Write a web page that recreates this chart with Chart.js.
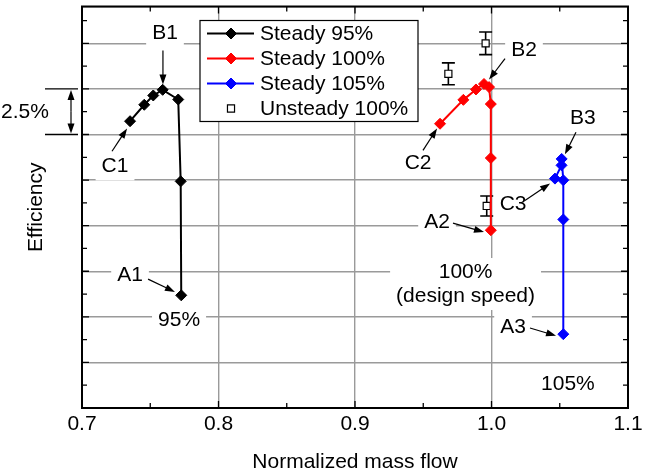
<!DOCTYPE html>
<html>
<head>
    <title>Efficiency vs Normalized mass flow</title>
    <script src="https://cdn.jsdelivr.net/npm/chart.js"></script>
    <style>
        body { margin: 0; background: #fff; }
    </style>
</head>
<body>
    <canvas id="myChart" width="652" height="475"></canvas>

    <script>
        // steady runs: normalized mass flow / efficiency (%, arbitrary offset)
        const flow95  = [0.7352, 0.7456, 0.7522, 0.7591, 0.7705, 0.7723, 0.7727];
        const eff95   = [85.73, 86.63, 87.14, 87.45, 86.92, 82.43, 76.18];
        const flow100 = [0.9623, 0.9794, 0.9886, 0.9945, 0.9982, 0.9995, 0.9995, 0.9995];
        const eff100  = [85.59, 86.90, 87.47, 87.77, 87.60, 86.67, 83.71, 79.75];
        const flow105 = [1.0465, 1.0513, 1.0514, 1.0526, 1.0526, 1.0526];
        const eff105  = [82.58, 83.31, 83.66, 82.49, 80.34, 74.05];
        // unsteady 100% with error bars
        const flowUns = [0.9684, 0.9957, 0.9965];
        const effUns  = [88.33, 90.00, 81.08];
        const errUns  = [0.60, 0.62, 0.55];

        const xTicks = [0.7, 0.8, 0.9, 1.0, 1.1];

        // text label position, arrow start, arrow tip (data units)
        const notes = [
            { text: 'B1', x: 0.7608, y: 90.53, ax: 0.7593, ay: 89.60, tx: 0.7593, ty: 87.74 },
            { text: 'C1', x: 0.7242, y: 83.25, ax: 0.7220, ay: 84.08, tx: 0.7330, ty: 85.33 },
            { text: 'A1', x: 0.7352, y: 77.29, ax: 0.7484, ay: 77.07, tx: 0.7681, ty: 76.36 },
            { text: '95%', x: 0.7711, y: 74.83 },
            { text: 'B2', x: 1.0238, y: 89.60, ax: 1.0099, ay: 89.16, tx: 0.9982, ty: 88.01 },
            { text: 'C2', x: 0.9462, y: 83.42, ax: 0.9498, ay: 84.13, tx: 0.9601, ty: 85.33 },
            { text: 'A2', x: 0.9601, y: 80.19, ax: 0.9718, ay: 80.14, tx: 0.9945, ty: 79.65 },
            { text: 'C3', x: 1.0158, y: 81.16, ax: 1.0245, ay: 81.38, tx: 1.0429, ty: 82.31 },
            { text: 'B3', x: 1.0670, y: 85.88, ax: 1.0619, ay: 85.12, tx: 1.0538, ty: 83.91 },
            { text: 'A3', x: 1.0158, y: 74.45, ax: 1.0282, ay: 74.39, tx: 1.0473, ty: 73.96 },
            { text: ['100%', '(design speed)'], x: 0.9810, y: 76.80 },
            { text: '105%', x: 1.0560, y: 71.28 }
        ];
        const scaleBar = [85, 87.5]; // the "2.5%" marker

        const FONT = '"Liberation Sans", Arial, sans-serif';
        const FS = 21;
        Chart.defaults.font.family = FONT;
        Chart.defaults.font.size = FS;
        Chart.defaults.color = '#000';

        function toXY(xs, ys) {
            return xs.map((x, i) => ({ x: x, y: ys[i] }));
        }

        function arrow(ctx, x1, y1, x2, y2) {
            const a = Math.atan2(y2 - y1, x2 - x1);
            const len = 10, hw = 3.5;
            ctx.strokeStyle = '#000';
            ctx.fillStyle = '#000';
            ctx.lineWidth = 1.2;
            ctx.beginPath();
            ctx.moveTo(x1, y1);
            ctx.lineTo(x2 - Math.cos(a) * len * 0.8, y2 - Math.sin(a) * len * 0.8);
            ctx.stroke();
            ctx.beginPath();
            ctx.moveTo(x2, y2);
            ctx.lineTo(x2 - Math.cos(a) * len - Math.sin(a) * hw, y2 - Math.sin(a) * len + Math.cos(a) * hw);
            ctx.lineTo(x2 - Math.cos(a) * len + Math.sin(a) * hw, y2 - Math.sin(a) * len - Math.cos(a) * hw);
            ctx.closePath();
            ctx.fill();
        }

        const figurePlugin = {
            id: 'figure',
            beforeDatasetsDraw(chart) {
                const ctx = chart.ctx, xs = chart.scales.x, ys = chart.scales.y;
                ctx.save();
                // labels with white boxes that cut the grid
                ctx.font = FS + 'px ' + FONT;
                ctx.textAlign = 'center';
                ctx.textBaseline = 'middle';
                notes.forEach(n => {
                    const lines = Array.isArray(n.text) ? n.text : [n.text];
                    const px = xs.getPixelForValue(n.x), py = ys.getPixelForValue(n.y);
                    const lh = 24;
                    const w = Math.max(...lines.map(t => ctx.measureText(t).width));
                    const h = lh * lines.length;
                    ctx.fillStyle = '#fff';
                    ctx.fillRect(px - w / 2 - 6, py - h / 2 - 2, w + 12, h + 4);
                    ctx.fillStyle = '#000';
                    lines.forEach((t, i) => ctx.fillText(t, px, py - h / 2 + lh / 2 + i * lh));
                    if (n.ax !== undefined) {
                        arrow(ctx, xs.getPixelForValue(n.ax), ys.getPixelForValue(n.ay),
                            xs.getPixelForValue(n.tx), ys.getPixelForValue(n.ty));
                    }
                });
                // error bars of the unsteady points
                ctx.strokeStyle = '#000';
                ctx.lineWidth = 1.6;
                flowUns.forEach((f, i) => {
                    const px = xs.getPixelForValue(f);
                    const top = ys.getPixelForValue(effUns[i] + errUns[i]);
                    const bot = ys.getPixelForValue(effUns[i] - errUns[i]);
                    ctx.beginPath();
                    ctx.moveTo(px, top); ctx.lineTo(px, bot);
                    ctx.moveTo(px - 6.5, top); ctx.lineTo(px + 6.5, top);
                    ctx.moveTo(px - 6.5, bot); ctx.lineTo(px + 6.5, bot);
                    ctx.stroke();
                });
                ctx.restore();
            },
            afterDraw(chart) {
                const ctx = chart.ctx, a = chart.chartArea, xs = chart.scales.x, ys = chart.scales.y;
                ctx.save();
                // inward ticks
                ctx.strokeStyle = '#000';
                ctx.lineWidth = 1.3;
                ctx.beginPath();
                for (let v = 0.7; v <= 1.1001; v += 0.05) {
                    const px = xs.getPixelForValue(v);
                    const major = Math.abs(Math.round(v * 10) - v * 10) < 1e-6;
                    const L = major ? 7 : 5;
                    ctx.moveTo(px, a.bottom); ctx.lineTo(px, a.bottom - L);
                    ctx.moveTo(px, a.top); ctx.lineTo(px, a.top + L);
                }
                for (let v = 70; v <= ys.max; v += 1.25) {
                    const py = ys.getPixelForValue(v);
                    const major = Math.abs((v / 2.5) - Math.round(v / 2.5)) < 1e-6;
                    const L = major ? 7 : 5;
                    ctx.moveTo(a.left, py); ctx.lineTo(a.left + L, py);
                    ctx.moveTo(a.right, py); ctx.lineTo(a.right - L, py);
                }
                ctx.stroke();
                // frame
                ctx.lineWidth = 2;
                ctx.strokeRect(a.left, a.top, a.right - a.left, a.bottom - a.top);

                // legend
                const lx = a.left + 118, ly = a.top + 14, lw = 218, lh = 101;
                ctx.fillStyle = '#fff';
                ctx.fillRect(lx, ly, lw, lh);
                ctx.lineWidth = 1.2;
                ctx.strokeStyle = '#000';
                ctx.strokeRect(lx, ly, lw, lh);
                ctx.font = FS + 'px ' + FONT;
                ctx.textAlign = 'left';
                ctx.textBaseline = 'middle';
                chart.data.datasets.forEach((ds, i) => {
                    const y = ly + 13 + i * 25;
                    const cx = lx + 31;
                    if (ds.showLine) {
                        ctx.strokeStyle = ds.borderColor;
                        ctx.lineWidth = 2;
                        ctx.beginPath();
                        ctx.moveTo(lx + 7, y); ctx.lineTo(lx + 54, y);
                        ctx.stroke();
                    }
                    ctx.fillStyle = ds.pointBackgroundColor;
                    ctx.strokeStyle = ds.borderColor;
                    ctx.lineWidth = ds.pointBorderWidth;
                    Chart.helpers.drawPoint(ctx, {
                        pointStyle: ds.pointStyle, radius: ds.pointRadius, borderWidth: ds.pointBorderWidth
                    }, cx, y);
                    ctx.fillStyle = '#000';
                    ctx.fillText(ds.label, lx + 60, y + 1);
                });

                // 2.5% scale bar left of the axis
                const y1 = ys.getPixelForValue(scaleBar[1]);
                const y2 = ys.getPixelForValue(scaleBar[0]);
                ctx.strokeStyle = '#000';
                ctx.lineWidth = 1.3;
                ctx.beginPath();
                ctx.moveTo(a.left - 37, y1); ctx.lineTo(a.left - 4, y1);
                ctx.moveTo(a.left - 37, y2); ctx.lineTo(a.left - 4, y2);
                ctx.stroke();
                const bx = a.left - 11;
                arrow(ctx, bx, (y1 + y2) / 2, bx, y1 + 1);
                arrow(ctx, bx, (y1 + y2) / 2, bx, y2 - 1);
                ctx.fillStyle = '#000';
                ctx.textAlign = 'center';
                ctx.fillText('2.5%', a.left - 57, (y1 + y2) / 2);
                ctx.restore();
            }
        };

        const ctx = document.getElementById('myChart').getContext('2d');
        window.myChart = new Chart(ctx, {
            type: 'scatter',
            data: {
                datasets: [
                    {
                        label: 'Steady 95%',
                        data: toXY(flow95, eff95),
                        showLine: true,
                        borderColor: '#000',
                        backgroundColor: '#000',
                        pointBackgroundColor: '#000',
                        borderWidth: 2,
                        pointBorderWidth: 1,
                        pointStyle: 'rectRot',
                        pointRadius: 5.5
                    },
                    {
                        label: 'Steady 100%',
                        data: toXY(flow100, eff100),
                        showLine: true,
                        borderColor: '#ff0000',
                        backgroundColor: '#ff0000',
                        pointBackgroundColor: '#ff0000',
                        borderWidth: 2,
                        pointBorderWidth: 1,
                        pointStyle: 'rectRot',
                        pointRadius: 5.5
                    },
                    {
                        label: 'Steady 105%',
                        data: toXY(flow105, eff105),
                        showLine: true,
                        borderColor: '#0000ff',
                        backgroundColor: '#0000ff',
                        pointBackgroundColor: '#0000ff',
                        borderWidth: 2,
                        pointBorderWidth: 1,
                        pointStyle: 'rectRot',
                        pointRadius: 5.5
                    },
                    {
                        label: 'Unsteady 100%',
                        data: toXY(flowUns, effUns),
                        showLine: false,
                        borderColor: '#000',
                        backgroundColor: '#fff',
                        pointBackgroundColor: '#fff',
                        pointBorderWidth: 1.2,
                        pointStyle: 'rect',
                        pointRadius: 5
                    }
                ]
            },
            options: {
                responsive: false,
                animation: false,
                layout: { padding: { top: 6, right: 24, left: 0, bottom: 0 } },
                plugins: {
                    legend: { display: false },
                    tooltip: { enabled: false }
                },
                scales: {
                    x: {
                        type: 'linear',
                        min: 0.7,
                        max: 1.1,
                        afterBuildTicks: s => { s.ticks = xTicks.map(v => ({ value: v })); },
                        ticks: {
                            callback: v => v.toFixed(1),
                            padding: 4,
                            maxRotation: 0,
                            autoSkip: false,
                            font: { size: FS }
                        },
                        grid: { color: '#9a9a9a', lineWidth: 1.4, drawTicks: false },
                        border: { display: false },
                        title: {
                            display: true,
                            text: 'Normalized mass flow',
                            font: { size: FS },
                            padding: { top: 4, bottom: 0 }
                        },
                        afterFit: s => { s.height = 67; }
                    },
                    y: {
                        min: 70,
                        max: 92.02,
                        ticks: { display: false, stepSize: 2.5 },
                        grid: { color: '#9a9a9a', lineWidth: 1.4, drawTicks: false },
                        border: { display: false },
                        title: {
                            display: true,
                            text: 'Efficiency',
                            font: { size: FS },
                            padding: { top: 24, bottom: 0 }
                        },
                        afterFit: s => { s.width = 82; }
                    }
                }
            },
            plugins: [figurePlugin]
        });
    </script>
</body>
</html>
